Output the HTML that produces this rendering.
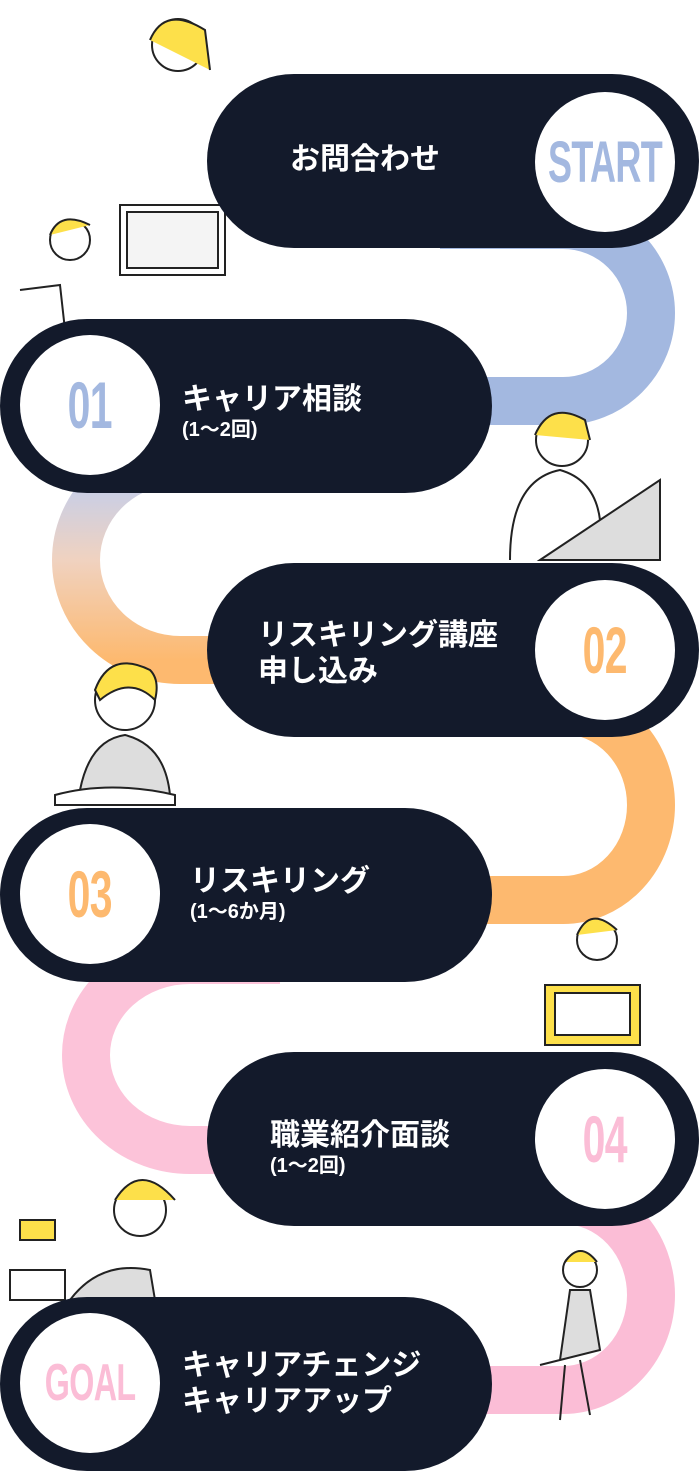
<!DOCTYPE html>
<html><head><meta charset="utf-8"><style>
html,body{margin:0;padding:0;background:#fff;}
body{width:700px;height:1471px;position:relative;overflow:hidden;font-family:"Liberation Sans","Noto Sans CJK JP",sans-serif;}
.pill{position:absolute;height:174px;border-radius:87px;background:#131a2b;}
.c{position:absolute;width:140px;height:140px;border-radius:50%;background:#fff;display:flex;align-items:center;justify-content:center;}
.c span{font-family:"Liberation Sans",sans-serif;font-weight:bold;font-size:66px;transform:scaleX(0.62);letter-spacing:-1px;white-space:nowrap;}
.t{position:absolute;color:#fff;font-weight:bold;font-size:30px;line-height:36px;}
.t small{display:block;font-size:20px;line-height:24px;}
svg{position:absolute;left:0;top:0;}
</style></head><body>
<svg width="700" height="1471" viewBox="0 0 700 1471">
<defs>
<linearGradient id="g1" x1="0" y1="460" x2="0" y2="660" gradientUnits="userSpaceOnUse"><stop offset="0" stop-color="#b9cdf5"/><stop offset="0.5" stop-color="#f0d2c0"/><stop offset="1" stop-color="#fdb96f"/></linearGradient>
</defs>
<g fill="none" stroke-width="48">
<path d="M440 225 L563 225 A88 88 0 0 1 563 401 L440 401" stroke="#a3b8e0"/>
<path d="M280 460 L180 460 A104 100 0 0 0 180 660 L280 660" stroke="url(#g1)"/>
<path d="M440 710 L563 710 A88 95 0 0 1 563 900 L440 900" stroke="#fdb96f"/>
<path d="M280 960 L190 960 A104 95 0 0 0 190 1150 L280 1150" stroke="#fcc3d9"/>
<path d="M440 1200 L563 1200 A88 95 0 0 1 563 1390 L440 1390" stroke="#fbbdd6"/>
</g>
<g stroke="#222" stroke-width="2" fill="none">
<circle cx="178" cy="45" r="26" fill="#fff"/><path d="M150 40 Q165 5 205 30 L210 70" fill="#fde04a" stroke="#222"/>
<rect x="120" y="205" width="105" height="70" fill="#fff"/><rect x="127" y="212" width="91" height="56" fill="#f4f4f4"/>
<circle cx="70" cy="240" r="20" fill="#fff"/><path d="M50 235 Q60 210 90 225" fill="#fde04a"/>
<path d="M20 290 L60 285 L65 330" />
<circle cx="562" cy="440" r="26" fill="#fff"/><path d="M535 435 Q550 400 585 420 L590 440" fill="#fde04a"/>
<path d="M510 560 Q510 480 560 470 Q595 480 600 520"/>
<path d="M540 560 L660 480 L660 560 Z" fill="#ddd"/>
<circle cx="125" cy="700" r="30" fill="#fff"/><path d="M95 690 Q110 650 150 670 Q160 680 155 700 Q130 675 100 700Z" fill="#fde04a"/>
<path d="M80 790 Q90 740 125 735 Q165 745 170 795 Z" fill="#ddd"/>
<path d="M55 795 Q110 780 175 795 L175 805 L55 805Z" fill="#fff"/>
<circle cx="597" cy="940" r="20" fill="#fff"/><path d="M577 935 Q590 905 617 930" fill="#fde04a"/>
<rect x="545" y="985" width="95" height="60" fill="#fde04a"/><rect x="555" y="993" width="75" height="42" fill="#fff"/>
<circle cx="140" cy="1210" r="26" fill="#fff"/><path d="M115 1200 Q140 1160 175 1200" fill="#fde04a"/>
<path d="M70 1300 Q100 1260 150 1270 L155 1300" fill="#ddd"/>
<rect x="20" y="1220" width="35" height="20" fill="#fde04a"/><rect x="10" y="1270" width="55" height="30" fill="#fff"/>
<circle cx="580" cy="1270" r="17" fill="#fff"/><path d="M565 1262 Q580 1240 597 1262" fill="#fde04a"/>
<path d="M570 1290 L560 1360 L540 1365 L600 1350 L590 1290Z" fill="#ddd"/>
<path d="M565 1365 L560 1420 M580 1360 L590 1415"/>
</g>
</svg>
<div class="pill" style="left:207px;top:74px;width:492px;"></div>
<div class="c" style="left:535px;top:92px;"><span style="color:#a3b8e0;font-size:58px">START</span></div>
<div class="t" style="left:290px;top:142px;">お問合わせ</div>

<div class="pill" style="left:0;top:319px;width:492px;"></div>
<div class="c" style="left:20px;top:335px;"><span style="color:#a3b8e0">01</span></div>
<div class="t" style="left:182px;top:382px;">キャリア相談<small>(1〜2回)</small></div>

<div class="pill" style="left:207px;top:563px;width:492px;"></div>
<div class="c" style="left:535px;top:580px;"><span style="color:#fdb96f">02</span></div>
<div class="t" style="left:258px;top:618px;">リスキリング講座<br>申し込み</div>

<div class="pill" style="left:0;top:808px;width:492px;"></div>
<div class="c" style="left:20px;top:824px;"><span style="color:#fdb96f">03</span></div>
<div class="t" style="left:190px;top:864px;">リスキリング<small>(1〜6か月)</small></div>

<div class="pill" style="left:207px;top:1052px;width:492px;"></div>
<div class="c" style="left:535px;top:1069px;"><span style="color:#fbbdd6">04</span></div>
<div class="t" style="left:270px;top:1118px;">職業紹介面談<small>(1〜2回)</small></div>

<div class="pill" style="left:0;top:1297px;width:492px;"></div>
<div class="c" style="left:20px;top:1313px;"><span style="color:#fbbdd6;font-size:52px">GOAL</span></div>
<div class="t" style="left:182px;top:1348px;">キャリアチェンジ<br>キャリアアップ</div>
</body></html>
